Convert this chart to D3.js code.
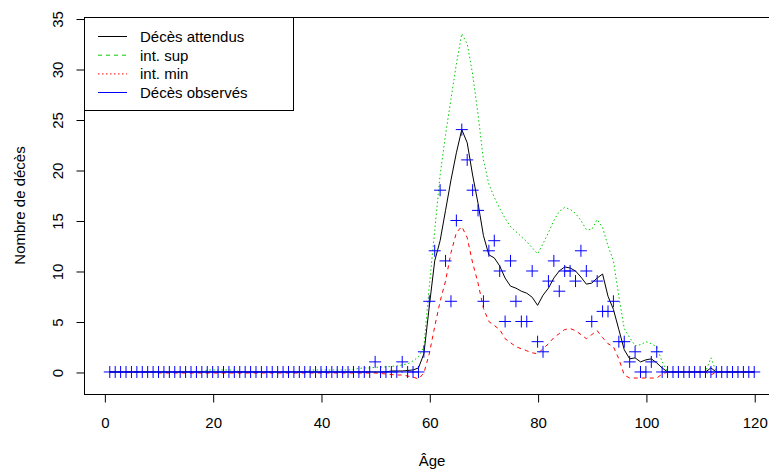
<!DOCTYPE html>
<html>
<head>
<meta charset="utf-8">
<script src="https://cdn.jsdelivr.net/npm/d3@7"></script>
<style>
  html, body { margin: 0; padding: 0; background: #fff; }
  svg { display: block; }
  text { font-family: "Liberation Sans", Arial, sans-serif; fill: #000; }
</style>
</head>
<body>
<svg id="chart" width="769" height="472"></svg>
<script>
// ---- Data ----
const ages = [1,2,3,4,5,6,7,8,9,10,11,12,13,14,15,16,17,18,19,20,
  21,22,23,24,25,26,27,28,29,30,31,32,33,34,35,36,37,38,39,40,
  41,42,43,44,45,46,47,48,49,50,51,52,53,54,55,56,57,58,59,60,
  61,62,63,64,65,66,67,68,69,70,71,72,73,74,75,76,77,78,79,80,
  81,82,83,84,85,86,87,88,89,90,91,92,93,94,95,96,97,98,99,100,
  101,102,103,104,105,106,107,108,109,110,111,112,113,114,115,116,117,118,119,120];

const observed = [0,0,0,0,0,0,0,0,0,0, 0,0,0,0,0,0,0,0,0,0,
  0,0,0,0,0,0,0,0,0,0, 0,0,0,0,0,0,0,0,0,0,
  0,0,0,0,0,0,0,0,0,1, 0,0,0,0,1,0,0,0,2,7,
  12,18,11,7,15,24,21,18,16,7, 12,13,10,5,11,7,5,5,10,3,
  2,9,11,8,10,10,9,12,10,5, 9,6,6,7,3,3,1,2,0,0,
  1,2,0,0,0,0,0,0,0,0, 0,0,0,0,0,0,0,0,0,0];

const expected = [0,0,0,0,0,0,0,0,0,0, 0,0,0,0,0,0,0,0,0,0,
  0,0,0,0,0,0,0,0,0,0, 0,0,0,0,0,0,0,0,0,0,
  0,0,0,0,0,0,0,0,0,0, 0,0,0.1,0.1,0.1,0.15,0.2,0.4,1.8,6.5,
  11,13,16,19,21.7,24,22.7,19.5,16.7,13.5, 11.6,11.3,10.5,9.3,8.5,8.3,8.0,7.8,7.4,6.6,
  7.6,8.3,9.3,10.0,10.4,10.3,10.0,9.4,8.7,8.8, 9.3,9.7,7.5,6.2,4.2,2.2,1.3,1.4,1.0,1.2,
  1.3,0.9,0.4,0,0,0,0,0,0,0, 0,0.4,0,0,0,0,0,0,0,0];

const intSup = [0,0,0,0,0,0,0,0,0,0, 0,0,0,0,0,0,0,0,0.2,0.2,
  0.2,0.2,0.2,0.2,0,0,0,0,0,0, 0,0,0,0,0,0,0,0.2,0.2,0.2,
  0.2,0.2,0.2,0.2,0.2,0.25,0.35,0.4,0.4,0.45, 0.5,0.5,0.55,0.6,0.7,0.8,1.1,1.5,2.5,8.5,
  14,19.5,23.5,27,30.5,33.5,32.5,29.5,25.5,21, 18.6,17.3,16.2,15.2,14.4,13.9,13.4,12.9,12.3,11.7,
  12.7,13.8,15.0,15.9,16.3,16.1,15.7,15.0,14.1,14.1, 15.1,14.3,12.5,11.0,7.5,4.3,3.4,2.6,2.7,3.0,
  2.8,2.5,1.0,0,0,0,0,0,0,0, 0,1.4,0,0,0,0,0,0,0,0];

const intMin = [0,0,0,0,0,0,0,0,0,-0.1, -0.1,-0.1,-0.1,-0.1,-0.1,-0.1,-0.1,-0.1,-0.1,-0.1,
  -0.1,-0.1,-0.1,-0.1,-0.1,-0.1,-0.1,-0.1,-0.1,-0.1, -0.1,-0.1,-0.1,-0.1,-0.1,-0.1,-0.1,-0.1,-0.1,-0.1,
  -0.1,-0.1,-0.1,-0.1,-0.1,-0.1,-0.1,-0.1,-0.1,-0.1, -0.15,-0.2,-0.25,-0.3,-0.3,-0.4,-0.5,-0.7,-0.1,1.8,
  4.5,7,9,11.8,13.8,14.4,13.3,10.8,8.8,6.3, 5.0,4.6,4.2,3.3,2.9,2.5,2.3,2.1,1.9,1.8,
  2.3,2.8,3.4,3.8,4.2,4.3,4.1,3.7,3.3,3.7, 4.1,3.4,2.8,2.5,1.3,-0.3,-0.6,-0.6,-0.6,-0.6,
  -0.6,-0.6,-0.2,0,0,0,0,0,0,0, 0,-0.3,0,0,0,0,0,0,0,0];

const xTicks = [0, 20, 40, 60, 80, 100, 120];
const yTicks = [0, 5, 10, 15, 20, 25, 30, 35];
const legendLabels = ["Décès attendus", "int. sup", "int. min", "Décès observés"];
const xLabel = "Âge";
const yLabel = "Nombre de décès";

// ---- Layout ----
const svg = d3.select("#chart");
svg.append("rect").attr("width", 769).attr("height", 472).attr("fill", "#fff");

const plotL = 84, plotR = 780, plotT = 17, plotB = 394;
const x = d3.scaleLinear().domain([-3.76, 124.76]).range([plotL, plotR]);
const y = d3.scaleLinear().domain([-2.18, 35.15]).range([plotB, plotT]);

const fontSize = 15;

// Lines
const line = (vals) => d3.line()
  .x((d, i) => x(ages[i]))
  .y(d => y(d))(vals);

const g = svg.append("g");

g.append("path").attr("d", line(intSup))
  .attr("fill", "none").attr("stroke", "#00CD00").attr("stroke-width", 1)
  .attr("stroke-dasharray", "1.5,2.5");

g.append("path").attr("d", line(intMin))
  .attr("fill", "none").attr("stroke", "#FF0000").attr("stroke-width", 1)
  .attr("stroke-dasharray", "4,4");

g.append("path").attr("d", line(expected))
  .attr("fill", "none").attr("stroke", "#000").attr("stroke-width", 1);

// Observed crosses
const half = 6;
const pts = g.append("g").attr("stroke", "#0000FF").attr("stroke-width", 1);
observed.forEach((v, i) => {
  const cx = x(ages[i]), cy = y(v);
  pts.append("line").attr("x1", cx - half).attr("x2", cx + half).attr("y1", cy).attr("y2", cy);
  pts.append("line").attr("x1", cx).attr("x2", cx).attr("y1", cy - half).attr("y2", cy + half);
});

// Box
svg.append("rect")
  .attr("x", plotL + 0.5).attr("y", plotT + 0.5)
  .attr("width", plotR - plotL).attr("height", plotB - plotT)
  .attr("fill", "none").attr("stroke", "#000").attr("stroke-width", 1);

// X axis
const xAxis = d3.axisBottom(x).tickValues(xTicks).tickSize(8).tickPadding(15)
  .tickFormat(d3.format("d"));
const gx = svg.append("g").attr("transform", `translate(0.5,${plotB + 0.5})`).call(xAxis);
gx.select(".domain").attr("d", `M${x(0)},0H${x(120)}`).attr("stroke", "#000");
gx.selectAll("text").attr("font-size", fontSize).attr("font-family", "Liberation Sans, Arial, sans-serif").attr("fill", "#000");
gx.selectAll("line").attr("stroke", "#000");

// Y axis
const yAxis = d3.axisLeft(y).tickValues(yTicks).tickSize(8).tickFormat(d3.format("d"));
const gy = svg.append("g").attr("transform", `translate(${plotL + 0.5},0.5)`).call(yAxis);
gy.select(".domain").attr("d", `M0,${y(0)}V${y(35)}`).attr("stroke", "#000");
gy.selectAll("line").attr("stroke", "#000");
gy.selectAll("text")
  .attr("font-size", fontSize).attr("font-family", "Liberation Sans, Arial, sans-serif").attr("fill", "#000")
  .attr("x", null).attr("dy", null)
  .attr("text-anchor", "middle")
  .attr("transform", "translate(-26,0) rotate(-90)")
  .attr("dy", "0.32em");

// Axis titles
svg.append("text").attr("x", (plotL + plotR) / 2).attr("y", 466)
  .attr("text-anchor", "middle").attr("font-size", fontSize).text(xLabel);
svg.append("text")
  .attr("transform", `translate(25,${(plotT + plotB) / 2}) rotate(-90)`)
  .attr("text-anchor", "middle").attr("font-size", fontSize).text(yLabel);

// Legend
const leg = svg.append("g");
leg.append("rect").attr("x", plotL + 0.5).attr("y", plotT + 0.5).attr("width", 209).attr("height", 93)
  .attr("fill", "#fff").attr("stroke", "#000").attr("stroke-width", 1);
const legStyles = [
  { color: "#000", dash: null },
  { color: "#00CD00", dash: "4,4" },
  { color: "#FF0000", dash: "1.5,2.5" },
  { color: "#0000FF", dash: null }
];
const rowY = [36, 54.7, 73.4, 92];
legendLabels.forEach((lab, i) => {
  leg.append("line").attr("x1", 98).attr("x2", 127).attr("y1", rowY[i] + 0.5).attr("y2", rowY[i] + 0.5)
    .attr("stroke", legStyles[i].color).attr("stroke-width", 1)
    .attr("stroke-dasharray", legStyles[i].dash);
  leg.append("text").attr("x", 140).attr("y", rowY[i] + 6)
    .attr("font-size", fontSize).text(lab);
});
</script>
</body>
</html>
